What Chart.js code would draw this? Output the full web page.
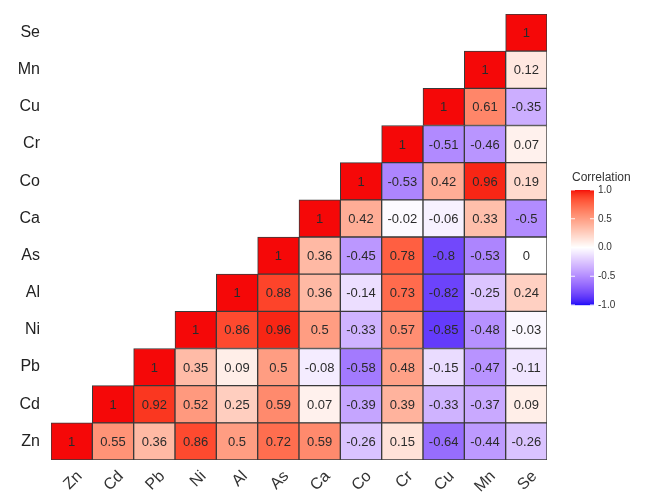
<!DOCTYPE html>
<html>
<head>
<meta charset="utf-8">
<script src="https://cdn.jsdelivr.net/npm/chart.js@4"></script>
<style>
html,body{margin:0;padding:0;background:#fff;}
#wrap{width:645px;height:498px;position:relative;}
</style>
</head>
<body>
<div id="wrap"><canvas id="c" width="645" height="498"></canvas></div>
<script>
const elements = ['Zn','Cd','Pb','Ni','Al','As','Ca','Co','Cr','Cu','Mn','Se'];
// each row (from bottom) holds correlations with columns from the diagonal to the right
const corrZn = [1,0.55,0.36,0.86,0.5,0.72,0.59,-0.26,0.15,-0.64,-0.44,-0.26];
const corrCd = [1,0.92,0.52,0.25,0.59,0.07,-0.39,0.39,-0.33,-0.37,0.09];
const corrPb = [1,0.35,0.09,0.5,-0.08,-0.58,0.48,-0.15,-0.47,-0.11];
const corrNi = [1,0.86,0.96,0.5,-0.33,0.57,-0.85,-0.48,-0.03];
const corrAl = [1,0.88,0.36,-0.14,0.73,-0.82,-0.25,0.24];
const corrAs = [1,0.36,-0.45,0.78,-0.8,-0.53,0];
const corrCa = [1,0.42,-0.02,-0.06,0.33,-0.5];
const corrCo = [1,-0.53,0.42,0.96,0.19];
const corrCr = [1,-0.51,-0.46,0.07];
const corrCu = [1,0.61,-0.35];
const corrMn = [1,0.12];
const corrSe = [1];
const rows = [corrZn,corrCd,corrPb,corrNi,corrAl,corrAs,corrCa,corrCo,corrCr,corrCu,corrMn,corrSe];
const legendTicks = [1.0,0.5,0.0,-0.5,-1.0];

// Lab interpolation like ggplot's scale_fill_gradient2
function srgbToLin(c){c/=255;return c<=0.04045?c/12.92:Math.pow((c+0.055)/1.055,2.4);}
function linToSrgb(c){c=c<=0.0031308?12.92*c:1.055*Math.pow(c,1/2.4)-0.055;return Math.round(Math.max(0,Math.min(1,c))*255);}
function rgbToLab(r,g,b){
  r=srgbToLin(r);g=srgbToLin(g);b=srgbToLin(b);
  let x=(r*0.4124+g*0.3576+b*0.1805)/0.95047, y=(r*0.2126+g*0.7152+b*0.0722), z=(r*0.0193+g*0.1192+b*0.9505)/1.08883;
  const f=t=>t>0.008856?Math.cbrt(t):7.787*t+16/116;
  const fx=f(x),fy=f(y),fz=f(z);
  return [116*fy-16,500*(fx-fy),200*(fy-fz)];
}
function labToRgb(L,a,b){
  const fy=(L+16)/116,fx=fy+a/500,fz=fy-b/200;
  const fi=t=>t*t*t>0.008856?t*t*t:(t-16/116)/7.787;
  const x=fi(fx)*0.95047,y=fi(fy),z=fi(fz)*1.08883;
  const r=3.2406*x-1.5372*y-0.4986*z, g=-0.9689*x+1.8758*y+0.0415*z, bb=0.0557*x-0.2040*y+1.0570*z;
  return [linToSrgb(r),linToSrgb(g),linToSrgb(bb)];
}
const LW=rgbToLab(255,255,255), LR=rgbToLab(245,8,8), LB=rgbToLab(25,10,248);
function corrColor(v){
  const t=Math.abs(v), end=v>=0?LR:LB;
  const c=labToRgb(LW[0]+(end[0]-LW[0])*t, LW[1]+(end[1]-LW[1])*t, LW[2]+(end[2]-LW[2])*t);
  return 'rgb('+c[0]+','+c[1]+','+c[2]+')';
}

const datasets = rows.map((vals,i)=>({
  label: elements[i],
  data: elements.map((_,j)=> j>=i ? [i,i+1] : null),
  backgroundColor: ctx => { const v=vals[ctx.dataIndex-i]; return v===undefined?'rgba(0,0,0,0)':corrColor(v); },
  borderColor: '#3a3a3a',
  borderWidth: 1,
  borderSkipped: false,
  barPercentage: 1.0,
  categoryPercentage: 1.0,
  grouped: false
}));

const cellText = {
  id:'cellText',
  afterDatasetsDraw(chart){
    const ctx=chart.ctx;
    ctx.save();
    ctx.font='13px "Liberation Sans", Arial, sans-serif';
    ctx.fillStyle='#2b2b2b';
    ctx.textAlign='center';
    ctx.textBaseline='middle';
    chart.data.datasets.forEach((ds,i)=>{
      const meta=chart.getDatasetMeta(i);
      meta.data.forEach((el,j)=>{
        if(j<i) return;
        const v=rows[i][j-i];
        ctx.fillText(String(v), el.x, (el.y+el.base)/2+1);
      });
    });
    ctx.restore();
  }
};

const colorBar = {
  id:'colorBar',
  afterDraw(chart){
    const ctx=chart.ctx, area=chart.chartArea;
    const x0=area.right+24, w=23, top=190, bot=305;
    ctx.save();
    ctx.font='12px "Liberation Sans", Arial, sans-serif';
    ctx.fillStyle='#333';
    ctx.textAlign='left'; ctx.textBaseline='alphabetic';
    ctx.fillText('Correlation', x0+1, 181);
    const n=bot-top;
    for(let k=0;k<n;k++){
      const v=1-2*(k+0.5)/n;
      ctx.fillStyle=corrColor(v);
      ctx.fillRect(x0, top+k, w, 1.2);
    }
    ctx.font='10px "Liberation Sans", Arial, sans-serif';
    ctx.textBaseline='middle';
    legendTicks.forEach(t=>{
      const y=top+(1-t)/2*n;
      ctx.strokeStyle='rgba(255,255,255,0.9)'; ctx.lineWidth=1;
      ctx.beginPath(); ctx.moveTo(x0,y); ctx.lineTo(x0+4,y); ctx.moveTo(x0+w-4,y); ctx.lineTo(x0+w,y); ctx.stroke();
      ctx.fillStyle='#333';
      ctx.fillText(t.toFixed(1), x0+w+4, y);
    });
    ctx.restore();
  }
};

new Chart(document.getElementById('c'),{
  type:'bar',
  data:{labels:elements, datasets},
  options:{
    responsive:false,
    animation:false,
    layout:{padding:{top:14,right:98,left:0,bottom:0}},
    plugins:{legend:{display:false},tooltip:{enabled:false}},
    scales:{
      x:{
        type:'category',
        grid:{display:false,drawTicks:false},
        border:{display:false},
        ticks:{minRotation:45,maxRotation:45,padding:7,labelOffset:8,color:'#333',font:{size:16,family:'"Liberation Sans", Arial, sans-serif'}},
        afterFit(s){s.height=38;s.paddingLeft=0;s.paddingRight=0;}
      },
      y:{
        type:'linear',
        min:0,max:12,
        grid:{display:false,drawTicks:false},
        border:{display:false},
        afterBuildTicks(s){s.ticks=elements.map((_,i)=>({value:i+0.5}));},
        ticks:{padding:11,color:'#222',font:{size:16,family:'"Liberation Sans", Arial, sans-serif'},callback:(v)=>elements[Math.floor(v)]},
        afterFit(s){s.width=51;s.paddingTop=0;s.paddingBottom=0;}
      }
    }
  },
  plugins:[cellText,colorBar]
});
</script>
</body>
</html>
